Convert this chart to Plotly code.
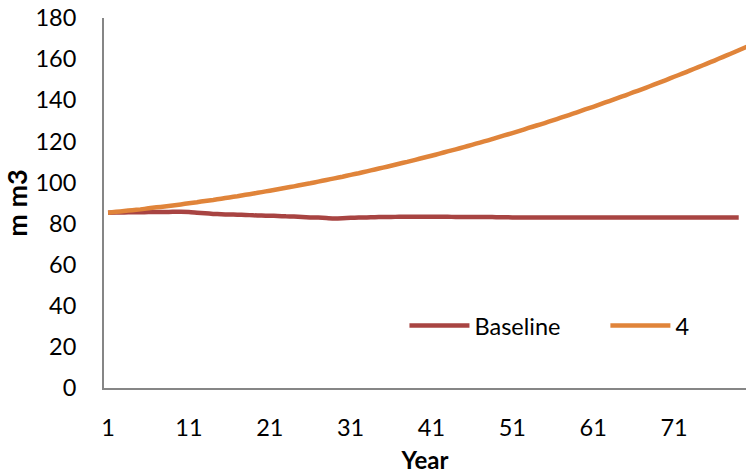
import plotly.graph_objects as go

# Simulation years (category axis 1..80)
years = list(range(1, 81))

# Stock volume, million m3
baseline = [
    85.3, 85.4, 85.4, 85.5, 85.5, 85.6, 85.6, 85.6, 85.7, 85.7,
    85.6, 85.3, 85.0, 84.7, 84.5, 84.4, 84.3, 84.2, 84.0, 83.9,
    83.8, 83.7, 83.5, 83.4, 83.2, 83.0, 82.9, 82.7, 82.5, 82.6,
    82.8, 82.9, 83.0, 83.1, 83.2, 83.2, 83.3, 83.3, 83.3, 83.3,
    83.3, 83.3, 83.3, 83.2, 83.2, 83.2, 83.2, 83.2, 83.1, 83.1,
    83.0, 83.0, 83.0, 83.0, 83.0, 83.0, 83.0, 83.0, 83.0, 83.0,
    83.0, 83.0, 83.0, 83.0, 83.0, 83.0, 83.0, 83.0, 83.0, 83.0,
    83.0, 82.9, 82.9, 82.9, 82.9, 82.9, 82.9, 82.9, 82.9,
]
scenario_4 = [
    85.3, 85.7, 86.1, 86.5, 86.9, 87.4, 87.9, 88.3, 88.8, 89.3,
    89.9, 90.4, 91.0, 91.5, 92.1, 92.7, 93.3, 94.0, 94.6, 95.3,
    96.0, 96.7, 97.4, 98.1, 98.9, 99.6, 100.4, 101.2, 102.0, 102.8,
    103.7, 104.5, 105.4, 106.3, 107.2, 108.1, 109.1, 110.0, 111.0, 112.0,
    113.0, 114.0, 115.1, 116.1, 117.2, 118.3, 119.4, 120.5, 121.7, 122.9,
    124.0, 125.2, 126.5, 127.7, 128.9, 130.2, 131.5, 132.8, 134.1, 135.5,
    136.8, 138.2, 139.6, 141.0, 142.4, 143.9, 145.3, 146.8, 148.3, 149.8,
    151.4, 152.9, 154.5, 156.1, 157.7, 159.3, 161.0, 162.6, 164.3, 166.0,
]

x_ticks = [1, 11, 21, 31, 41, 51, 61, 71]
y_ticks = list(range(0, 181, 20))

FONT = "Lato, Calibri, 'Open Sans', sans-serif"
FS = 23.5
AXIS_GREY = "#868686"

fig = go.Figure()
fig.add_trace(go.Scatter(
    x=years[:len(baseline)], y=baseline, name="Baseline", mode="lines",
    line=dict(color="#A84442", width=4.5, shape="spline", smoothing=0.6),
    legend="legend",
))
fig.add_trace(go.Scatter(
    x=years[:len(scenario_4)], y=scenario_4, name="4", mode="lines",
    line=dict(color="#E0843A", width=4.5, shape="spline", smoothing=0.6),
    legend="legend2",
))

legend_style = dict(
    orientation="h", xanchor="left", yanchor="middle", y=0.168,
    bgcolor="rgba(0,0,0,0)", font=dict(size=FS, color="#000000"), itemwidth=60,
)

fig.update_layout(
    width=746, height=474,
    margin=dict(l=104, r=0, t=18, b=86),
    paper_bgcolor="white", plot_bgcolor="white",
    font=dict(family=FONT, size=FS, color="#000000"),
    showlegend=True,
    legend=dict(x=0.468, **legend_style),
    legend2=dict(x=0.781, **legend_style),
    xaxis=dict(
        range=[0.5, 79.9], tickmode="array", tickvals=x_ticks,
        ticktext=[str(v) for v in x_ticks],
        showgrid=False, zeroline=False, showline=True,
        linecolor=AXIS_GREY, linewidth=2, ticks="", ticklabelstandoff=18,
        title=dict(text="<b>Year</b>", font=dict(size=24), standoff=12),
    ),
    yaxis=dict(
        range=[0, 180], tickmode="array", tickvals=y_ticks,
        showgrid=False, zeroline=False, showline=True,
        linecolor=AXIS_GREY, linewidth=2, ticks="", ticklabelstandoff=21,
        title=dict(text="<b>m m3</b>", font=dict(size=27), standoff=4),
    ),
)

fig.write_html("out.html")
